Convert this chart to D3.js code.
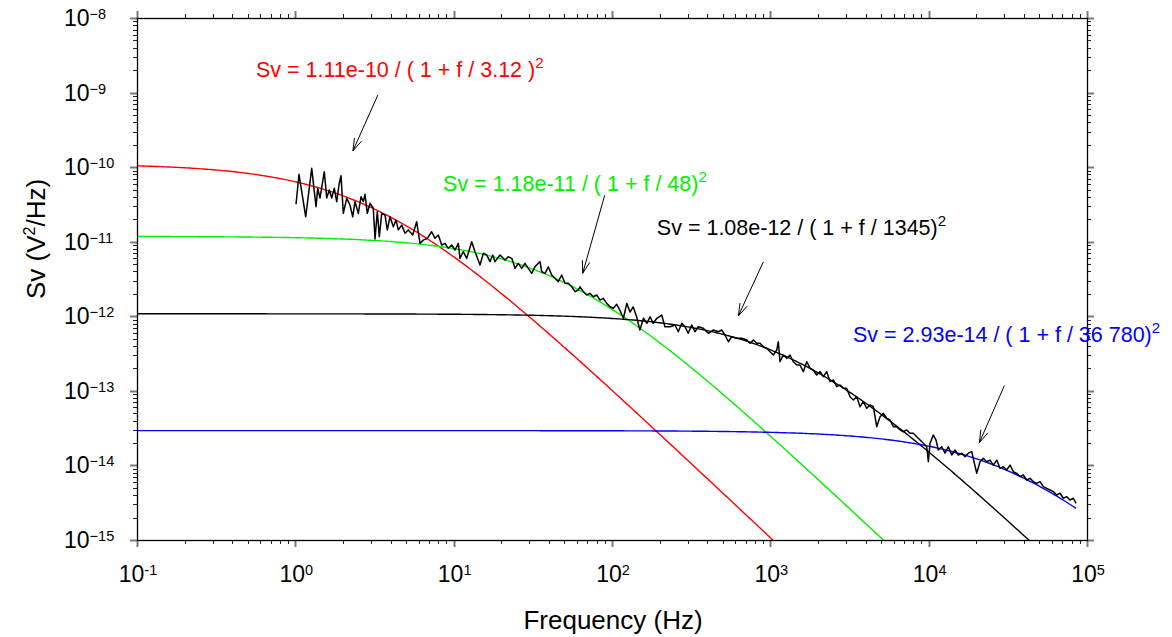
<!DOCTYPE html>
<html><head><meta charset="utf-8">
<script src="https://cdn.jsdelivr.net/npm/d3@7"></script>
<style>body{margin:0;background:#fff}svg{display:block}text{font-family:Arial,"Liberation Sans",sans-serif}</style>
</head><body>
<svg id="c" width="1172" height="637"></svg>
<script>
// measured noise spectrum (frequency in Hz, Sv in V^2/Hz)
const freq = [1.01,1.055,1.163,1.269,1.351,1.385,1.432,1.524,1.578,1.639,1.697,1.763,1.825,1.887,1.943,2.009,2.111,2.214,2.303,2.382,2.499,2.599,2.688,2.754,2.849,2.963,3.107,3.185,3.294,3.392,3.512,3.685,3.81,3.963,4.158,4.323,4.471,4.697,4.928,5.17,5.51,5.84,6.13,6.43,6.82,7.26,7.62,8.0,8.41,8.82,9.25,9.72,10.2,10.7,10.96,11.5,12.09,13.0,13.64,14.67,15.39,16.17,16.96,17.65,18.24,19.62,21.1,22.1,23.3,24.4,25.6,26.9,28.2,29.6,31.1,32.6,34.2,35.1,36.0,37.8,39.6,41.6,43.6,45.8,48.1,50.5,53.0,55.7,58.4,61.3,62.8,65.9,69.2,72.6,76.2,80.1,84.0,88.1,92.6,97.2,102,107,112,118,124,130,136,143,150,158,166,174,182,192,206,216,233,250,262,276,289,303,319,334,351,377,406,437,469,493,517,543,570,613,660,710,744,781,820,861,903,949,995,1045,1098,1123,1151,1208,1269,1332,1397,1468,1540,1616,1698,1781,1869,1963,2060,2161,2271,2382,2500,2627,2756,2891,3037,3187,3343,3513,3687,3868,4064,4263,4472,4699,4931,5172,5435,5702,5982,6284,6595,6918,7268,7625,8001,8409,8822,9255,9723,9954,10200,10700,11130,11510,12090,12690,13310,13990,14680,15390,16180,16970,17800,18710,19340,20120,21100,22140,23260,24400,25610,26920,28230,29620,31120,32660,34240,35980,37760,39610,41620,43680,45810,48130,50500,52980,55680,58410,61280,64400,67550,70870,74470,78140,81970,85240];
const sv = [3.18e-11,8.02e-11,2.16e-11,9.65e-11,2.95e-11,5.20e-11,3.86e-11,8.69e-11,3.86e-11,4.94e-11,3.86e-11,5.20e-11,3.44e-11,5.76e-11,7.67e-11,2.40e-11,3.82e-11,3.11e-11,2.16e-11,3.44e-11,2.40e-11,4.02e-11,3.44e-11,4.32e-11,2.40e-11,3.27e-11,2.81e-11,1.09e-11,2.53e-11,1.17e-11,2.40e-11,2.28e-11,1.44e-11,2.16e-11,1.59e-11,1.95e-11,1.44e-11,1.67e-11,1.30e-11,1.44e-11,1.23e-11,1.85e-11,9.52e-12,1.05e-11,1.11e-11,1.36e-11,1.11e-11,1.23e-11,9.03e-12,9.52e-12,8.16e-12,9.03e-12,7.74e-12,9.52e-12,5.99e-12,7.35e-12,5.99e-12,1.0e-11,7.35e-12,4.87e-12,7.0e-12,6.64e-12,5.40e-12,6.64e-12,5.40e-12,6.64e-12,5.69e-12,6.30e-12,5.99e-12,4.40e-12,5.13e-12,4.40e-12,5.13e-12,4.40e-12,3.77e-12,4.62e-12,5.13e-12,5.40e-12,3.96e-12,3.77e-12,4.62e-12,3.58e-12,3.23e-12,2.91e-12,3.58e-12,2.77e-12,2.77e-12,2.49e-12,2.14e-12,2.25e-12,2.49e-12,2.14e-12,1.93e-12,2.03e-12,1.83e-12,1.93e-12,1.65e-12,1.74e-12,1.49e-12,1.34e-12,1.28e-12,1.45e-12,1.21e-12,9.40e-13,1.49e-12,1.14e-12,1.34e-12,9.87e-13,6.55e-13,9.40e-13,8.05e-13,9.87e-13,8.05e-13,9.40e-13,1.04e-12,7.25e-13,7.25e-13,7.64e-13,6.21e-13,8.05e-13,7.25e-13,5.91e-13,7.64e-13,6.21e-13,7.25e-13,6.90e-13,5.91e-13,6.55e-13,6.21e-13,6.55e-13,5.61e-13,4.56e-13,5.32e-13,5.07e-13,5.07e-13,4.81e-13,4.34e-13,4.81e-13,4.34e-13,4.34e-13,3.91e-13,3.72e-13,3.35e-13,3.03e-13,3.53e-13,4.56e-13,2.46e-13,3.03e-13,2.73e-13,3.03e-13,2.46e-13,2.22e-13,2.22e-13,1.81e-13,2.46e-13,2.01e-13,1.90e-13,1.63e-13,1.81e-13,1.55e-13,1.81e-13,1.33e-13,1.40e-13,1.14e-13,1.20e-13,1.08e-13,1.08e-13,8.35e-14,7.54e-14,8.35e-14,6.13e-14,7.16e-14,5.83e-14,6.46e-14,6.13e-14,3.31e-14,4.50e-14,5.00e-14,4.29e-14,4.07e-14,3.31e-14,3.31e-14,2.99e-14,2.83e-14,2.99e-14,2.70e-14,2.70e-14,2.43e-14,2.19e-14,1.98e-14,1.78e-14,1.12e-14,1.98e-14,2.56e-14,2.19e-14,1.61e-14,1.78e-14,1.46e-14,1.78e-14,1.38e-14,1.61e-14,1.38e-14,1.46e-14,1.31e-14,1.46e-14,1.53e-14,1.12e-14,7.84e-15,1.12e-14,1.25e-14,1.12e-14,1.18e-14,1.01e-14,1.18e-14,9.15e-15,9.62e-15,8.69e-15,1.01e-14,8.24e-15,7.84e-15,7.06e-15,7.44e-15,6.38e-15,6.72e-15,6.05e-15,5.75e-15,6.05e-15,5.19e-15,4.93e-15,4.68e-15,4.45e-15,4.01e-15,4.24e-15,3.63e-15,3.81e-15,3.44e-15,3.63e-15,3.10e-15];

// fitted Lorentzian components: Sv = A / (1 + f/fc)^2
const fitNames   = ["red","green","black","blue"];
const fitAmp     = [1.11e-10, 1.18e-11, 1.08e-12, 2.93e-14];
const fitCorner  = [3.12, 48, 1345, 36780];
const fitFmax    = [1e5, 1e5, 1e5, 85240];
const fitLabels  = ["Sv = 1.11e-10 / ( 1 + f / 3.12 )", "Sv = 1.18e-11 / ( 1 + f / 48)", "Sv = 1.08e-12 / ( 1 + f / 1345)", "Sv = 2.93e-14 / ( 1 + f / 36 780)"];
const labelF     = [0.564, 8.57, 192, 3327];
const labelS     = [1.62e-9, 4.78e-11, 1.23e-11, 4.52e-13];
const arrowTipF  = [2.31, 65.3, 628, 20900];
const arrowTipS  = [1.65e-10, 3.77e-12, 1.01e-12, 2.02e-14];

// axes
const xDecades = [-1,0,1,2,3,4,5];
const yDecades = [-15,-14,-13,-12,-11,-10,-9,-8];
const xTitle = "Frequency (Hz)";

const colors = {red:"#ff0000", green:"#00f000", black:"#000000", blue:"#0000ff"};
const arrowOff = [[25,-56],[22,-78],[25,-54],[25,-57]];

const L=137, R=1087, T=18, B=540;
const svg = d3.select("#c");
const x = d3.scaleLog().domain([1e-1,1e5]).range([L,R]);
const y = d3.scaleLog().domain([1e-15,1e-8]).range([B,T]);

svg.append("defs").append("clipPath").attr("id","clip")
  .append("rect").attr("x",L).attr("y",T).attr("width",R-L).attr("height",B-T);

const line = d3.line().x(d=>x(d[0])).y(d=>y(d[1]));

// fit curves
const g = svg.append("g").attr("clip-path","url(#clip)");
fitAmp.forEach((A,i)=>{
  const fs = d3.range(0,401).map(k=>Math.pow(10,-1+k*(Math.log10(fitFmax[i])+1)/400));
  const pts = fs.map(f=>[f, Math.max(A/Math.pow(1+f/fitCorner[i],2),1e-16)]);
  g.append("path").attr("d",line(pts)).attr("fill","none")
   .attr("stroke",colors[fitNames[i]]).attr("stroke-width",1.4);
});
// data
g.append("path").attr("d",line(freq.map((f,i)=>[f,sv[i]]))).attr("fill","none")
  .attr("stroke","#000").attr("stroke-width",1.5).attr("stroke-linejoin","round");

// axes frame & ticks
const ax = svg.append("g");
function minorList(decs){const out=[];for(let i=0;i<decs.length-1;i++){for(let m=2;m<=9;m++)out.push(m*Math.pow(10,decs[i]));}return out;}
const xMaj = xDecades.map(d=>Math.pow(10,d)), yMaj = yDecades.map(d=>Math.pow(10,d));
const xMin = minorList(xDecades), yMin = minorList(yDecades);
const majC="#7a7a7a", minC="#222";
xMin.forEach(v=>{const px=Math.round(x(v))+0.5;
  ax.append("line").attr("x1",px).attr("x2",px).attr("y1",B).attr("y2",B+4).attr("stroke",minC);
  ax.append("line").attr("x1",px).attr("x2",px).attr("y1",T).attr("y2",T-4).attr("stroke",minC);});
yMin.forEach(v=>{const py=Math.round(y(v))+0.5;
  ax.append("line").attr("y1",py).attr("y2",py).attr("x1",L).attr("x2",L-4).attr("stroke",minC);
  ax.append("line").attr("y1",py).attr("y2",py).attr("x1",R).attr("x2",R+4).attr("stroke",minC);});
xMaj.forEach(v=>{const px=Math.round(x(v))+0.5;
  ax.append("line").attr("x1",px).attr("x2",px).attr("y1",B).attr("y2",B+7).attr("stroke",majC).attr("stroke-width",2);
  ax.append("line").attr("x1",px).attr("x2",px).attr("y1",T).attr("y2",T-7).attr("stroke",majC).attr("stroke-width",2);});
yMaj.forEach(v=>{const py=Math.round(y(v))+0.5;
  ax.append("line").attr("y1",py).attr("y2",py).attr("x1",L).attr("x2",L-7).attr("stroke",majC).attr("stroke-width",2);
  ax.append("line").attr("y1",py).attr("y2",py).attr("x1",R).attr("x2",R+7).attr("stroke",majC).attr("stroke-width",2);});
ax.append("rect").attr("x",L+0.5).attr("y",T+0.5).attr("width",R-L).attr("height",B-T)
  .attr("fill","none").attr("stroke","#000").attr("stroke-width",1.3);

// tick labels
xDecades.forEach(d=>{
  const t = svg.append("text").attr("x",x(Math.pow(10,d))+1).attr("y",582)
    .attr("text-anchor","middle").attr("font-size",23);
  t.append("tspan").text("10");
  t.append("tspan").attr("font-size",14.5).attr("dy",-7).text(String(d));
});
yDecades.forEach(d=>{
  const t = svg.append("text").attr("x",64).attr("y",y(Math.pow(10,d))+8)
    .attr("text-anchor","start").attr("font-size",23);
  t.append("tspan").text("10");
  t.append("tspan").attr("font-size",14.5).attr("dy",-7).text(String(d).replace("-","\u2212"));
});

// axis titles
svg.append("text").attr("x",613).attr("y",629).attr("text-anchor","middle").attr("font-size",26).text(xTitle);
const yt = svg.append("text").attr("transform","translate(45,239) rotate(-90)").attr("text-anchor","middle").attr("font-size",26);
yt.append("tspan").text("Sv (V");
yt.append("tspan").attr("font-size",16).attr("dy",-10).text("2");
yt.append("tspan").attr("dy",10).text("/Hz)");

// annotations
fitLabels.forEach((lab,i)=>{
  const c = colors[fitNames[i]];
  const t = svg.append("text").attr("x",x(labelF[i])).attr("y",y(labelS[i])).attr("font-size",21.5).attr("fill",c);
  t.append("tspan").text(lab);
  t.append("tspan").attr("font-size",15).attr("dy",-9).text("2");
  const tx = x(arrowTipF[i]), ty = y(arrowTipS[i]);
  const sx = tx+arrowOff[i][0], sy = ty+arrowOff[i][1];
  svg.append("line").attr("x1",sx).attr("y1",sy).attr("x2",tx).attr("y2",ty).attr("stroke","#000").attr("stroke-width",1);
  const ang = Math.atan2(ty-sy, tx-sx), hl=13, ha=0.3;
  [ang+Math.PI-ha, ang+Math.PI+ha].forEach(a=>{
    svg.append("line").attr("x1",tx).attr("y1",ty).attr("x2",tx+hl*Math.cos(a)).attr("y2",ty+hl*Math.sin(a))
      .attr("stroke","#000").attr("stroke-width",1);
  });
});
</script>
</body></html>
